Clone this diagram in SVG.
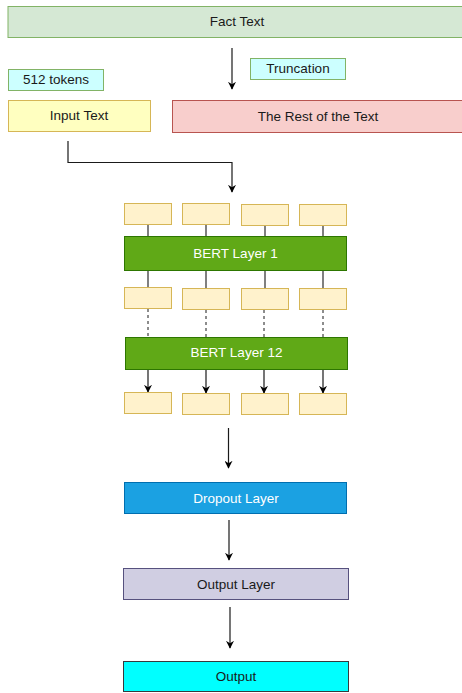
<svg xmlns="http://www.w3.org/2000/svg" width="462" height="693" viewBox="0 0 462 693">
  <style>
    text { font-family: "Liberation Sans", Arial, sans-serif; font-size: 13.5px; text-anchor: middle; dominant-baseline: central; fill: #1a1a1a; }
    .light { fill: #ffffff; }
    .tok { fill: #fff2cc; stroke: #d6b656; stroke-width: 1; }
    .bert { fill: #60a917; stroke: #2d7600; stroke-width: 1; }
    .stem { stroke: #808080; stroke-width: 2; fill: none; }
    .dash { stroke: #1a1a1a; stroke-width: 1; stroke-dasharray: 3 3; fill: none; }
    .arrow { stroke: #1a1a1a; stroke-width: 1.2; fill: none; marker-end: url(#head); }
  </style>
  <defs>
    <marker id="head" viewBox="0 0 10 10" refX="9" refY="5" markerWidth="8" markerHeight="8" markerUnits="userSpaceOnUse" orient="auto">
      <path d="M0,0 L10,5 L0,10 L3,5 Z" fill="#000"/>
    </marker>
  </defs>

  <rect width="462" height="693" fill="#ffffff"/>

  <g id="fact-text">
    <rect x="8" y="6.5" width="458" height="31" fill="#d5e8d4" stroke="#82b366"/>
    <text x="237" y="21">Fact Text</text>
  </g>
  <g id="truncation">
    <rect x="250.5" y="58.5" width="95" height="21" fill="#ccffff" stroke="#82b366"/>
    <text x="298" y="68.5">Truncation</text>
  </g>
  <g id="tokens-512">
    <rect x="8.5" y="69.5" width="95" height="21" fill="#ccffff" stroke="#82b366"/>
    <text x="56" y="79.5">512 tokens</text>
  </g>
  <g id="input-text">
    <rect x="8.5" y="100.5" width="142" height="31" fill="#ffffc0" stroke="#d6b656"/>
    <text x="79" y="115.5">Input Text</text>
  </g>
  <g id="rest-of-text">
    <rect x="172.5" y="100.5" width="292" height="32" fill="#f8cecc" stroke="#b85450"/>
    <text x="318" y="116">The Rest of the Text</text>
  </g>

  <g id="connectors">
    <path class="arrow" d="M232,48 V89"/>
    <path class="arrow" d="M68,141 V162.5 H232 V192"/>
    <!-- token stems into BERT Layer 1 -->
    <path class="stem" d="M148,225 V236 M206,225 V236 M265,226 V236 M323,226 V236"/>
    <!-- BERT Layer 1 outputs -->
    <path class="stem" d="M148,271 V287 M206,271 V288 M265,271 V288 M323,271 V288"/>
    <!-- skipped layers -->
    <path class="dash" d="M148,309 V337 M206,310 V337 M264,310 V337 M323,310 V337"/>
    <!-- BERT Layer 12 outputs -->
    <path class="arrow" d="M148,369 V392"/>
    <path class="arrow" d="M206,369 V393"/>
    <path class="arrow" d="M264,369 V393"/>
    <path class="arrow" d="M323,369 V393"/>
    <path class="arrow" d="M228.5,428 V468"/>
    <path class="arrow" d="M229,520 V560"/>
    <path class="arrow" d="M230,607 V648"/>
  </g>

  <g id="tokens-in">
    <rect class="tok" x="124.5" y="203.5" width="47" height="21"/>
    <rect class="tok" x="182.5" y="203.5" width="47" height="21"/>
    <rect class="tok" x="241.5" y="204.5" width="47" height="21"/>
    <rect class="tok" x="299.5" y="204.5" width="47" height="21"/>
  </g>
  <g id="bert-layer-1">
    <rect class="bert" x="124.5" y="236.5" width="222" height="34"/>
    <text class="light" x="235.5" y="253.5">BERT Layer 1</text>
  </g>
  <g id="tokens-mid">
    <rect class="tok" x="124.5" y="287.5" width="47" height="21"/>
    <rect class="tok" x="182.5" y="288.5" width="47" height="21"/>
    <rect class="tok" x="241.5" y="288.5" width="47" height="21"/>
    <rect class="tok" x="299.5" y="288.5" width="47" height="21"/>
  </g>
  <g id="bert-layer-12">
    <rect class="bert" x="125.5" y="337.5" width="222" height="32"/>
    <text class="light" x="236.5" y="352.5">BERT Layer 12</text>
  </g>
  <g id="tokens-out">
    <rect class="tok" x="124.5" y="392.5" width="47" height="21"/>
    <rect class="tok" x="182.5" y="393.5" width="47" height="21"/>
    <rect class="tok" x="241.5" y="393.5" width="47" height="21"/>
    <rect class="tok" x="299.5" y="393.5" width="47" height="21"/>
  </g>
  <g id="dropout-layer">
    <rect x="124.5" y="482.5" width="222" height="31" fill="#1ba1e2" stroke="#006eaf"/>
    <text class="light" x="236" y="498">Dropout Layer</text>
  </g>
  <g id="output-layer">
    <rect x="123.5" y="568.5" width="225" height="31" fill="#d0cee2" stroke="#56517e"/>
    <text x="236" y="584">Output Layer</text>
  </g>
  <g id="output">
    <rect x="123.5" y="661.5" width="225" height="30" fill="#00ffff" stroke="#36393d"/>
    <text x="236" y="676.5">Output</text>
  </g>
</svg>
